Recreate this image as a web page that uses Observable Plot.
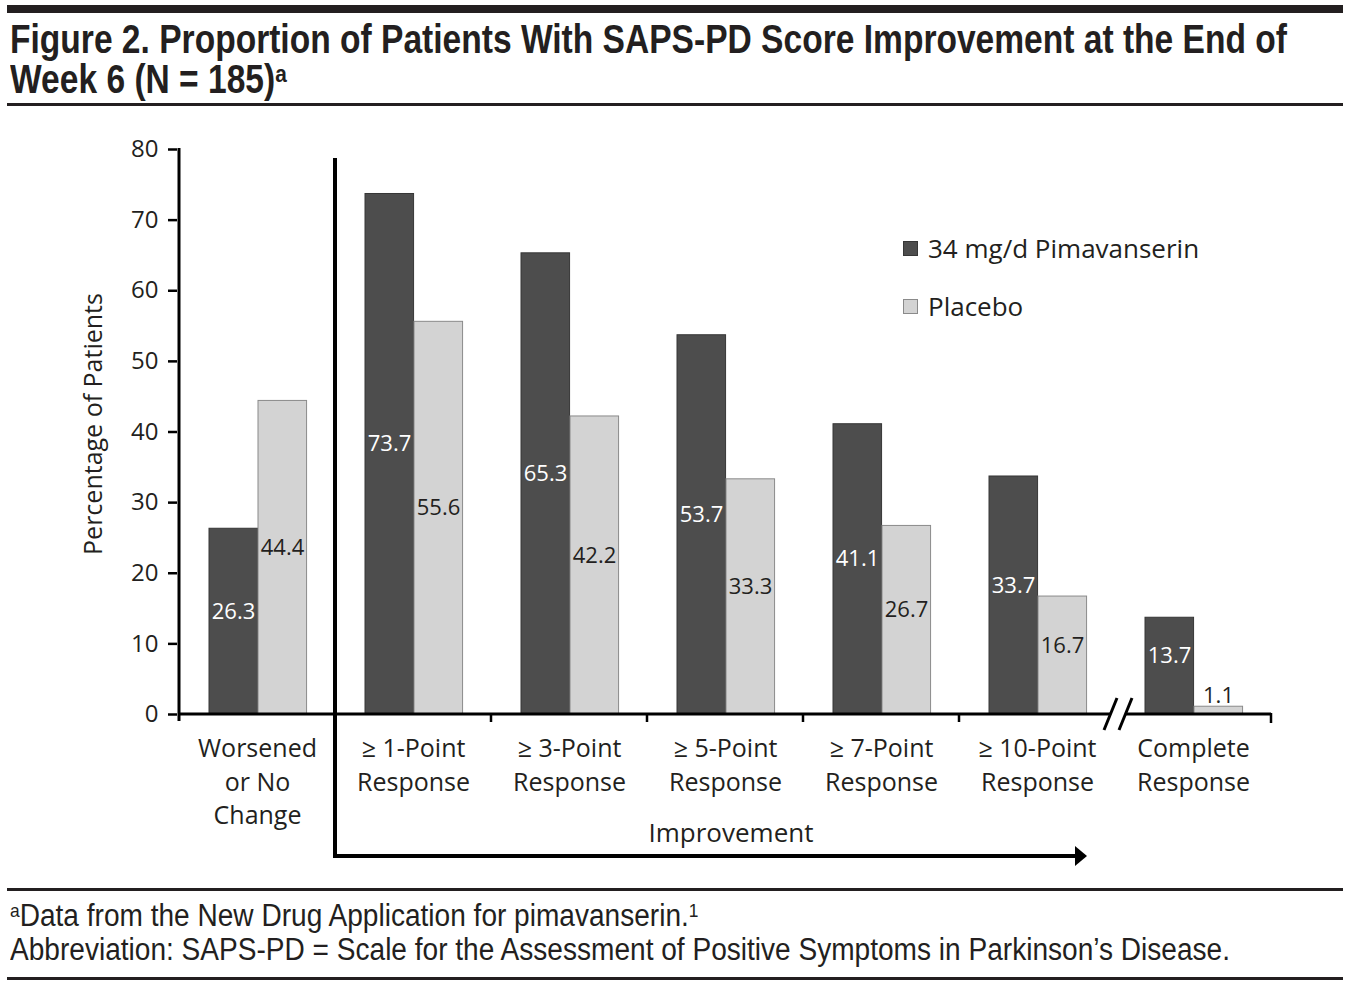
<!DOCTYPE html>
<html>
<head>
<meta charset="utf-8">
<script src="https://cdn.jsdelivr.net/npm/d3@7"></script>
<script src="https://cdn.jsdelivr.net/npm/@observablehq/plot@0.6"></script>
<style>
  body { margin: 0; background: #fff; }
  #root { position: relative; width: 1351px; height: 986px; overflow: hidden; color: #231f20; }
  .rule { position: absolute; left: 7px; width: 1336px; background: #231f20; }
  .tline { position: absolute; left: 10px; white-space: nowrap; font-family: "Liberation Sans Narrow", "Liberation Sans", sans-serif; line-height: 0.85; transform-origin: 0 0; }
  .title { font-weight: bold; font-size: 40px; }
  .foot { font-size: 31px; }
  .tline sup { font-size: 0.62em; line-height: 0; vertical-align: 0; position: relative; top: -0.45em; }
  #chart { position: absolute; left: 0; top: 110px; }
</style>
</head>
<body>
<div id="root">
  <div class="rule" style="top:5px;height:8px"></div>
  <div class="tline title" id="t1" style="top:22px">Figure 2. Proportion of Patients With SAPS-PD Score Improvement at the End of</div>
  <div class="tline title" id="t2" style="top:62px">Week 6 (N = 185)<sup>a</sup></div>
  <div class="rule" style="top:103px;height:2.5px"></div>
  <div id="chart"></div>
  <div class="rule" style="top:888px;height:2.5px"></div>
  <div class="tline foot" id="f1" style="top:903px"><sup>a</sup>Data from the New Drug Application for pimavanserin.<sup>1</sup></div>
  <div class="tline foot" id="f2" style="top:937px">Abbreviation: SAPS-PD = Scale for the Assessment of Positive Symptoms in Parkinson’s Disease.</div>
  <div class="rule" style="top:977px;height:2.5px"></div>
</div>
<script>
// ---- data ----
const categories = [
  "Worsened\nor No\nChange",
  "≥ 1-Point\nResponse",
  "≥ 3-Point\nResponse",
  "≥ 5-Point\nResponse",
  "≥ 7-Point\nResponse",
  "≥ 10-Point\nResponse",
  "Complete\nResponse"
];
const seriesNames = ["34 mg/d Pimavanserin", "Placebo"];
const pimavanserin = [26.3, 73.7, 65.3, 53.7, 41.1, 33.7, 13.7];
const placebo = [44.4, 55.6, 42.2, 33.3, 26.7, 16.7, 1.1];
const yTicks = [0, 10, 20, 30, 40, 50, 60, 70, 80];
const yLabel = "Percentage of Patients";
const groupLabel = "Improvement";

// ---- fit condensed text lines ----
function fit(ids, refId, target) {
  const w = document.getElementById(refId).getBoundingClientRect().width;
  const k = target / w;
  ids.forEach(id => document.getElementById(id).style.transform = `scaleX(${k})`);
}
fit(["t1", "t2"], "t1", 1277);
fit(["f1", "f2"], "f2", 1220);

// ---- chart ----
const W = 1351, H = 775, mL = 177, mR = 79, mT = 39, mB = 171;
const bw = (W - mL - mR) / categories.length;
const barW = 49, padL = 30;
const ink = "#231f20";
const darkFill = "#4d4d4d", lightFill = "#d3d3d3";
const fmt = d3.format(".1f");

const dark = pimavanserin.map((v, i) => ({cat: categories[i], v, s: seriesNames[0]}));
const light = placebo.map((v, i) => ({cat: categories[i], v, s: seriesNames[1]}));

const plot = Plot.plot({
  width: W, height: H,
  marginLeft: mL, marginRight: mR, marginTop: mT, marginBottom: mB,
  style: {fontFamily: "Open Sans", fontSize: "24px", color: ink, background: "transparent", overflow: "visible"},
  x: {domain: categories, padding: 0, axis: null},
  y: {domain: [0, 80], axis: null},
  marks: [
    Plot.barY(dark, {x: "cat", y: "v", fill: darkFill, stroke: "#363636", strokeWidth: 1,
      insetLeft: padL, insetRight: bw - padL - barW}),
    Plot.barY(light, {x: "cat", y: "v", fill: lightFill, stroke: "#8a8a8a", strokeWidth: 1,
      insetLeft: padL + barW, insetRight: bw - padL - 2 * barW}),
    Plot.text(dark, {x: "cat", y: d => d.v / 2, text: d => fmt(d.v), dx: -24, dy: -10,
      fill: "white", fontSize: 22}),
    Plot.text(light.filter(d => d.v >= 5), {x: "cat", y: d => d.v / 2, text: d => fmt(d.v), dx: 25, dy: -10,
      fill: ink, fontSize: 22}),
    Plot.text(light.filter(d => d.v < 5), {x: "cat", y: "v", text: d => fmt(d.v), dx: 25, dy: -4,
      lineAnchor: "bottom", fill: ink, fontSize: 22}),
    Plot.axisY({ticks: yTicks, tickSize: 9, tickPadding: 10, strokeWidth: 2.5, stroke: "#000",
      fontSize: 24, fill: ink, label: null}),
    Plot.text([yLabel], {frameAnchor: "left", textAnchor: "middle", text: d => d, rotate: -90, dx: -84, dy: -8,
      fontSize: 25, fill: ink}),
    Plot.text(categories, {x: d => d, text: d => d, frameAnchor: "bottom", lineAnchor: "top",
      dy: 19, lineHeight: 1.34, fontSize: 25, fill: ink})
  ]
});
document.getElementById("chart").appendChild(plot);

// ---- annotations using the plot's scales ----
const xs = plot.scale("x"), ys = plot.scale("y");
const svg = d3.select(plot);
const g = svg.append("g").attr("stroke", "#000").attr("fill", "none");
const X0 = xs.apply(categories[0]);
const xEnd = xs.apply(categories[categories.length - 1]) + xs.bandwidth;
const y0 = ys.apply(0), yTop = ys.apply(80);
const brk = xs.apply(categories[6]);
const bx = xs.apply(categories[1]);

// y axis line
g.append("line").attr("x1", X0).attr("x2", X0).attr("y1", yTop - 1).attr("y2", y0 + 7).attr("stroke-width", 3);
// x axis line with break
g.append("line").attr("x1", X0).attr("x2", brk - 4).attr("y1", y0).attr("y2", y0).attr("stroke-width", 3);
g.append("line").attr("x1", brk + 11).attr("x2", xEnd).attr("y1", y0).attr("y2", y0).attr("stroke-width", 3);
[[-11, 2], [4, 17]].forEach(([a, b]) =>
  g.append("line").attr("x1", brk + a).attr("y1", y0 + 16).attr("x2", brk + b).attr("y2", y0 - 16).attr("stroke-width", 3));
// boundary ticks
categories.slice(2, 6).forEach(c => {
  const px = xs.apply(c);
  g.append("line").attr("x1", px).attr("x2", px).attr("y1", y0).attr("y2", y0 + 8).attr("stroke-width", 2.5);
});
g.append("line").attr("x1", xEnd).attr("x2", xEnd).attr("y1", y0 - 1).attr("y2", y0 + 9).attr("stroke-width", 2.5);
// improvement bracket arrow
const arrowY = y0 + 142, tip = brk - 28;
g.append("line").attr("x1", bx).attr("x2", bx).attr("y1", yTop + 9).attr("y2", arrowY + 2).attr("stroke-width", 4);
g.append("line").attr("x1", bx - 2).attr("x2", tip - 10).attr("y1", arrowY).attr("y2", arrowY).attr("stroke-width", 4);
g.append("path").attr("d", `M${tip - 12},${arrowY - 10}L${tip},${arrowY}L${tip - 12},${arrowY + 10}Z`)
  .attr("fill", "#000").attr("stroke", "none");
svg.append("text").attr("x", (bx + brk) / 2 + 6).attr("y", y0 + 128).attr("text-anchor", "middle")
  .attr("font-size", 26).attr("fill", ink).text(groupLabel);

// legend
const lg = svg.append("g").attr("font-size", 26).attr("fill", ink).attr("text-anchor", "start");
[[seriesNames[0], darkFill, "#363636", 131], [seriesNames[1], lightFill, "#8a8a8a", 189]].forEach(([name, f, s, yy]) => {
  lg.append("rect").attr("x", 903.5).attr("y", yy + 0.5).attr("width", 14).attr("height", 14)
    .attr("fill", f).attr("stroke", s).attr("stroke-width", 1);
  lg.append("text").attr("x", 928).attr("y", yy + 17).attr("text-anchor", "start").text(name);
});
</script>
</body>
</html>
